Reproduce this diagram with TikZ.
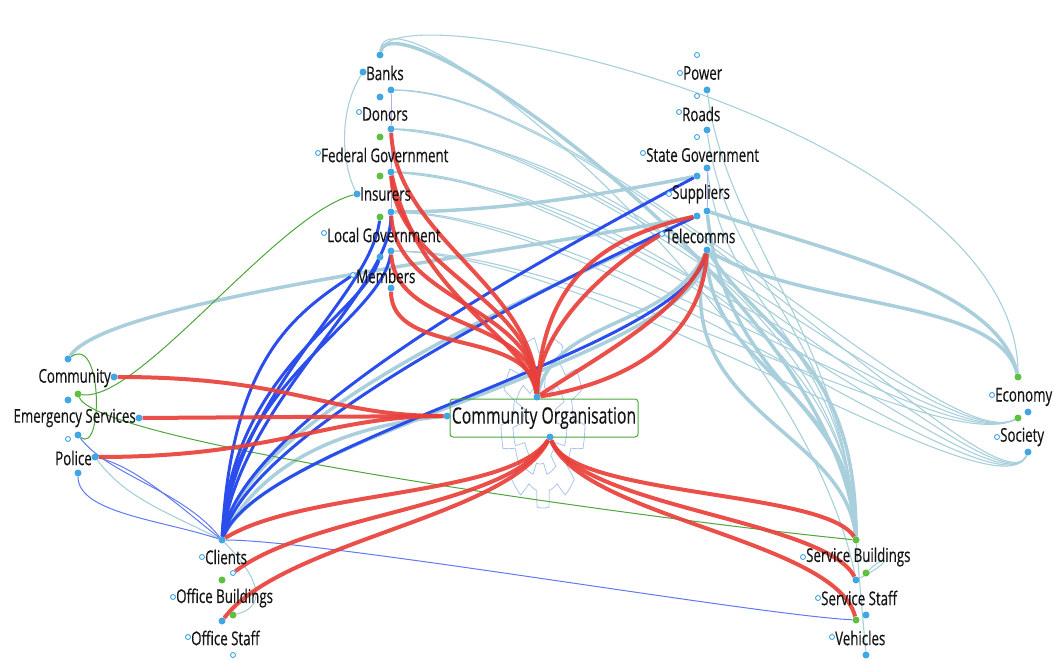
\documentclass[tikz,border=0pt]{standalone}
\usepackage{fontspec}
\setmainfont[FakeStretch=0.7,FakeBold=0.4]{Open Sans}
\definecolor{ered}{HTML}{E8403A}
\definecolor{eblue}{HTML}{2A4DEB}
\definecolor{elb}{HTML}{A8CFDB}
\definecolor{egreen}{HTML}{4CA63A}
\definecolor{dblue}{HTML}{42A6E2}
\definecolor{dgreen}{HTML}{5DC13F}
\definecolor{gearc}{HTML}{A9C5EE}
\definecolor{lav}{HTML}{B3AEF2}
\definecolor{txt}{HTML}{151515}
\pgfdeclarelayer{back}
\pgfdeclarelayer{edges}
\pgfsetlayers{back,edges,main}
\tikzset{
  lbl/.style={font=\fontsize{19}{21}\selectfont, inner sep=0pt, text=txt},
  bd/.style={circle, fill=dblue, inner sep=0pt, minimum size=7pt},
  gd/.style={circle, fill=dgreen, inner sep=0pt, minimum size=7pt},
  od/.style={circle, draw=dblue, fill=white, line width=0.9pt, inner sep=0pt, minimum size=5pt},
  cobox/.style={draw=egreen, rounded corners=3pt, line width=1pt, minimum width=188pt, minimum height=38pt, inner sep=1pt, font=\fontsize{22.5}{24}\selectfont, text=txt},
  redE/.style={draw=ered, line width=4pt, opacity=0.92},
  blueE/.style={draw=eblue, line width=3pt},
  blueT/.style={draw=eblue!75, line width=1pt},
  lbE/.style={draw=elb, line width=3.5pt},
  lbT/.style={draw=elb, line width=1.1pt},
  grT/.style={draw=egreen, line width=1pt},
  lavT/.style={draw=lav, line width=1pt},
  gearline/.style={draw=gearc, line width=0.8pt}
}
\begin{document}
\begin{tikzpicture}[x=1pt,y=-1pt]
\useasboundingbox (0,0) rectangle (1053,661);

% ---------- labels ----------
\node[lbl,anchor=west] (tBanks) at (366,73) {Banks};
\node[lbl,anchor=west] (tDonors) at (362,114) {Donors};
\node[lbl,anchor=west] (tFed) at (321,155) {Federal Government};
\node[lbl,anchor=west] (tIns) at (360,194) {Insurers};
\node[lbl,anchor=west] (tLoc) at (327,235) {Local Government};
\node[lbl,anchor=west] (tMem) at (356,276) {Members};
\node[lbl,anchor=west] (tPow) at (683,73) {Power};
\node[lbl,anchor=west] (tRoads) at (682,114) {Roads};
\node[lbl,anchor=west] (tState) at (646,155) {State Government};
\node[lbl,anchor=west] (tSup) at (672,194) {Suppliers};
\node[lbl,anchor=west] (tTel) at (665,236) {Telecomms};
\node[lbl,anchor=east] (tCom) at (111,378) {Community};
\node[lbl,anchor=east] (tES) at (136,418) {Emergency Services};
\node[lbl,anchor=east] (tPol) at (92,458) {Police};
\node[lbl,anchor=west] (tEco) at (995,397) {Economy};
\node[lbl,anchor=west] (tSoc) at (1000,437) {Society};
\node[lbl,anchor=west] (tCli) at (205,557) {Clients};
\node[lbl,anchor=west] (tOB) at (176,598) {Office Buildings};
\node[lbl,anchor=west] (tOS) at (191,638) {Office Staff};
\node[lbl,anchor=west] (tSB) at (806,557) {Service Buildings};
\node[lbl,anchor=west] (tSS) at (821,598) {Service Staff};
\node[lbl,anchor=west] (tVeh) at (835,638) {Vehicles};
\node[cobox] (co) at (544,418) {Community Organisation};

% ---------- ports ----------
\node[bd] (bk0) at (380,55) {};
\node[bd] (bkL) at (363,72) {};
\node[bd] (bk1) at (380,97) {};
\node[bd] (bkR) at (391,90) {};
\node[od] (dnL) at (359,112) {};
\node[bd] (dnR) at (391,129) {};
\node[gd] (dnG) at (380,137) {};
\node[od] (fgL) at (318,153) {};
\node[gd] (fgG) at (380,176) {};
\node[bd] (fgR) at (391,172) {};
\node[bd] (inL) at (357,194) {};
\node[bd] (inR) at (391,212) {};
\node[gd] (inG) at (380,217) {};
\node[od] (lgL) at (324,233) {};
\node[bd] (lgR) at (391,251) {};
\node[bd] (lgB) at (380,257) {};
\node[od] (meL) at (353,275) {};
\node[bd] (meR) at (391,288) {};

\node[od] (pw0) at (697,55) {};
\node[od] (pwL) at (680,73) {};
\node[bd] (pwR) at (707,90) {};
\node[od] (rd0) at (697,96) {};
\node[od] (rdL) at (679,112) {};
\node[bd] (rdR) at (707,130) {};
\node[od] (sg0) at (697,137) {};
\node[od] (sgL) at (643,153) {};
\node[bd] (sgR) at (707,168) {};
\node[bd] (sgB) at (697,176) {};
\node[od] (suL) at (669,194) {};
\node[bd] (suR) at (707,211) {};
\node[bd] (suB) at (697,216) {};
\node[od] (teL) at (662,234) {};
\node[bd] (teR) at (707,250) {};

\node[bd] (cm0) at (68,359) {};
\node[bd] (cmR) at (114,377) {};
\node[gd] (esG) at (78,394) {};
\node[bd] (es0) at (68,400) {};
\node[bd] (esR) at (139,418) {};
\node[bd] (esB) at (78,435) {};
\node[od] (poL) at (68,439) {};
\node[bd] (poR) at (95,457) {};
\node[bd] (poB) at (78,473) {};

\node[bd] (coT) at (537,397) {};
\node[bd] (coL) at (447,416) {};
\node[bd] (coB) at (550,437) {};

\node[gd] (ecG) at (1018,377) {};
\node[od] (ecL) at (992,395) {};
\node[gd] (ecG2) at (1018,418) {};
\node[bd] (ecR) at (1028,412) {};
\node[od] (soL) at (997,437) {};
\node[bd] (soB) at (1028,452) {};

\node[bd] (clT) at (222,540) {};
\node[od] (clL) at (202,557) {};
\node[od] (clO) at (233,573) {};
\node[gd] (obG) at (222,580) {};
\node[od] (obL) at (173,597) {};
\node[bd] (obB) at (222,621) {};
\node[gd] (obG2) at (233,615) {};
\node[od] (osL) at (188,637) {};
\node[od] (osB) at (233,655) {};

\node[gd] (sbG) at (856,540) {};
\node[od] (sbL) at (803,557) {};
\node[gd] (sbG2) at (866,573) {};
\node[bd] (sbB) at (856,580) {};
\node[od] (ssL) at (818,598) {};
\node[bd] (ssB) at (866,615) {};
\node[gd] (ssG) at (856,620) {};
\node[od] (veL) at (832,637) {};
\node[bd] (veB) at (866,655) {};

% ---------- gear behind the organisation ----------
\begin{pgfonlayer}{back}
\draw[gearline] plot[samples=181, domain=0:360, variable=\t]
  ({543+(36+6*sign(sin(9*\t)))*cos(\t)}, {422+(78+8*sign(sin(9*\t)))*sin(\t)}) -- cycle;
\draw[gearline] plot[samples=121, domain=0:360, variable=\t]
  ({540+(22+5*sign(sin(7*\t)))*cos(\t)}, {425+(45+6*sign(sin(7*\t)))*sin(\t)}) -- cycle;
\end{pgfonlayer}

% ---------- connectors ----------
\begin{pgfonlayer}{edges}
% light blue thin bundles to Society and Economy
\foreach \p in {bkR,dnR,fgR,inR,lgR}{
  \draw[lbT] (\p) .. controls +(220,5) and +(-30,70) .. (soB);
  \draw[lbT] (\p) .. controls +(200,0) and +(-80,40) .. (ecG2);
}
\foreach \p in {dnR,fgR}{
  \draw[lbT] (\p) .. controls +(220,20) and +(0,-200) .. (sbG);
}
\foreach \p in {pwR,rdR,sgR}{
  \draw[lbT] (\p) .. controls +(20,150) and +(-10,-200) .. (sbG);
}
% arcs from Banks
\draw[lbE] (bk0) .. controls (395,-10) and (840,300) .. (sbG);
\draw[lbT] (bk0) .. controls (385,-30) and (800,300) .. (sbB);
\draw[lbT] (bk0) .. controls (390,-15) and (1018,127) .. (ecG);
\draw[lbT] (bkL) .. controls +(-25,40) and +(-15,-30) .. (inL);
% Telecomms / Suppliers to Service Buildings and Economy
\draw[lbE] (teR) .. controls +(0,120) and +(0,-150) .. (sbG);
\draw[lbE] (teR) .. controls +(-40,160) and +(-10,-110) .. (sbG);
\draw[lbE] (teR) .. controls +(60,90) and +(0,-180) .. (sbG);
\draw[lbE] (suR) .. controls +(20,180) and +(0,-140) .. (sbG);
\draw[lbE] (suR) .. controls +(120,40) and +(-20,-90) .. (ecG);
\draw[lbE] (teR) .. controls +(100,60) and +(-20,-80) .. (ecG);
\draw[lbE] (teR) .. controls +(-40,80) and +(20,-80) .. (coT);
% long light blue from the left
\draw[lbE] (cm0) .. controls +(40,-60) and +(-200,40) .. (suB);
\draw[lbE] (inR) .. controls +(100,0) and +(-100,20) .. (sgB);
\draw[lbE] (clT) .. controls +(40,-80) and +(-100,10) .. (coL);
\draw[lbE] (clT) .. controls +(50,-110) and +(-10,110) .. (teR);
\draw[lbE] (clT) .. controls +(30,-130) and +(-120,60) .. (teL);
\draw[lbT] (poR) .. controls +(30,40) and +(-60,-30) .. (clT);
% small loops
\draw[lbT] (clT) .. controls +(30,30) and +(40,-10) .. (obG2);
\draw[lbT] (sbB) .. controls +(40,-20) and +(20,-20) .. (sbG2);
\draw[lbT] (sbG) -- (veB);

% green
\draw[grT] (inL) .. controls +(-80,20) and +(60,10) .. (esG);
\draw[grT] (cm0) .. controls +(35,-25) and +(25,20) .. (esB);
\draw[grT] (esG) .. controls +(20,50) and +(-200,-20) .. (sbG);

% thin blue
\draw[blueT] (poB) .. controls +(0,40) and +(-60,-20) .. (clT);
\draw[blueT] (poR) .. controls +(40,10) and +(-50,-40) .. (clT);
\draw[blueT] (esB) .. controls +(30,40) and +(-40,-50) .. (clT);
\draw[blueT] (clT) .. controls +(100,0) and +(-100,-5) .. (ssG);
\draw[lavT] (bkR) -- (dnR) -- (fgR) -- (inR);
\draw[lavT] (sgR) -- (suR);

% thick blue
\draw[blueE] (clT) .. controls +(10,-180) and +(-60,40) .. (meL);
\draw[blueE] (clT) .. controls +(10,-170) and +(-20,60) .. (lgB);
\draw[blueE] (clT) .. controls +(10,-160) and +(-10,70) .. (lgR);
\draw[blueE] (clT) .. controls +(15,-150) and +(-10,80) .. (inG);
\draw[blueE] (clT) .. controls +(20,-140) and +(0,80) .. (inR);
\draw[blueE] (clT) .. controls +(20,-120) and +(-150,80) .. (sgB);
\draw[blueE] (clT) .. controls +(30,-110) and +(-150,70) .. (suB);
\draw[blueE] (clT) .. controls +(40,-100) and +(-20,100) .. (teR);

% red
\draw[redE] (dnR) .. controls +(5,110) and +(0,-110) .. (coT);
\draw[redE] (fgR) .. controls +(5,100) and +(0,-100) .. (coT);
\draw[redE] (fgR) .. controls +(30,130) and +(-10,-60) .. (coT);
\draw[redE] (inR) .. controls +(5,90) and +(0,-90) .. (coT);
\draw[redE] (lgR) .. controls +(5,80) and +(0,-80) .. (coT);
\draw[redE] (meR) .. controls +(0,70) and +(-5,-70) .. (coT);
\draw[redE] (suB) .. controls +(-90,20) and +(5,-120) .. (coT);
\draw[redE] (teL) .. controls +(-50,30) and +(0,-70) .. (coT);
\draw[redE] (teR) .. controls +(-20,60) and +(60,-40) .. (coT);
\draw[redE] (teR) .. controls +(-5,90) and +(90,-15) .. (coT);
\draw[redE] (cmR) .. controls +(180,0) and +(-120,0) .. (coL);
\draw[redE] (esR) -- (coL);
\draw[redE] (poR) .. controls +(180,0) and +(-120,0) .. (coL);
\draw[redE] (coB) .. controls +(-40,60) and +(80,-50) .. (clT);
\draw[redE] (coB) .. controls +(-40,70) and +(80,-60) .. (clO);
\draw[redE] (coB) .. controls +(-40,80) and +(60,-80) .. (obB);
\draw[redE] (coB) .. controls +(20,60) and +(-30,-50) .. (sbG);
\draw[redE] (coB) .. controls +(30,70) and +(-30,-60) .. (sbB);
\draw[redE] (coB) .. controls +(30,80) and +(-20,-80) .. (ssG);
\end{pgfonlayer}
\end{tikzpicture}
\end{document}
